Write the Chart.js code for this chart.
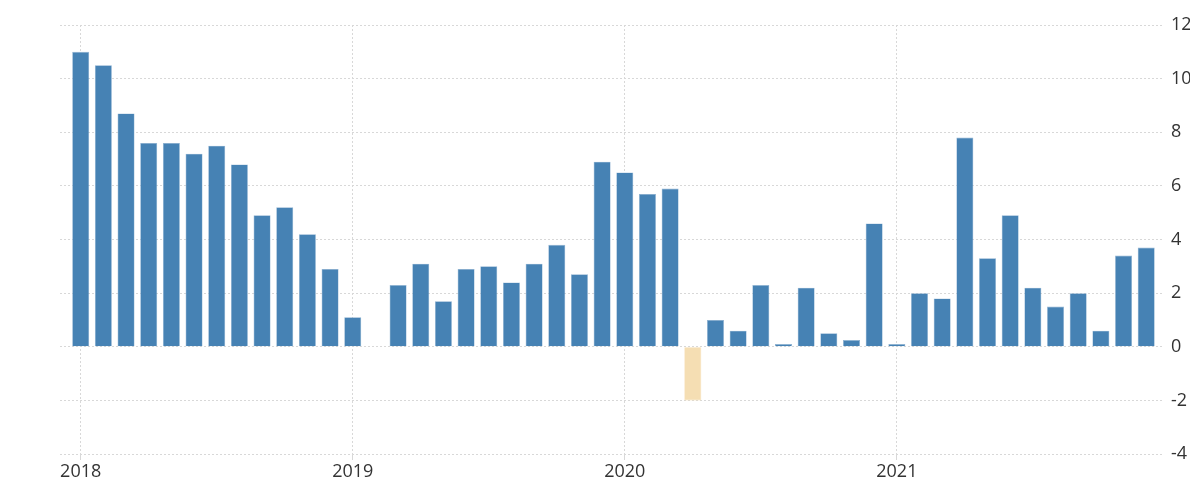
<!DOCTYPE html>
<html>
<head>
<meta charset="utf-8">
<script src="https://cdn.jsdelivr.net/npm/chart.js@4"></script>
<style>
  html, body { margin: 0; padding: 0; background: #fff; }
  #wrap { width: 1192px; height: 491px; }
</style>
</head>
<body>
<div id="wrap"><canvas id="myChart" width="1192" height="491"></canvas></div>
<script>
// monthly values, Jan 2018 - Dec 2021 (Feb 2019 has no value)
const values2018 = [11.0, 10.5, 8.7, 7.6, 7.6, 7.2, 7.5, 6.8, 4.9, 5.2, 4.2, 2.9];
const values2019 = [1.1, null, 2.3, 3.1, 1.7, 2.9, 3.0, 2.4, 3.1, 3.8, 2.7, 6.9];
const values2020 = [6.5, 5.7, 5.9, -2.0, 1.0, 0.6, 2.3, 0.1, 2.2, 0.5, 0.25, 4.6];
const values2021 = [0.1, 2.0, 1.8, 7.8, 3.3, 4.9, 2.2, 1.5, 2.0, 0.6, 3.4, 3.7];
const yearTicks = [0, 12, 24, 36];
const yearLabels = ['2018', '2019', '2020', '2021'];

const values = [].concat(values2018, values2019, values2020, values2021);
const points = values.map((v, i) => ({ x: i, y: v }));

document.addEventListener("DOMContentLoaded", function () {
    const ctx = document.getElementById('myChart');

    new Chart(ctx, {
        type: 'bar',
        data: {
            datasets: [{
                label: 'Value',
                data: points,
                backgroundColor: c => (c.raw && c.raw.y < 0) ? '#f5deb3' : '#4682b4',
                borderColor: c => (c.raw && c.raw.y < 0) ? '#f5deb3' : '#8fb2d2',
                borderWidth: 0.6,
                barPercentage: 0.75,
                categoryPercentage: 1
            }]
        },
        options: {
            responsive: false,
            animation: false,
            layout: { padding: { left: 60, right: 2, top: 25, bottom: 0 } },
            plugins: { legend: { display: false }, tooltip: { enabled: false } },
            scales: {
                x: {
                    type: 'linear',
                    offset: false,
                    min: -0.913,
                    max: 47.74,
                    afterBuildTicks: axis => { axis.ticks = yearTicks.map(v => ({ value: v })); },
                    afterFit: axis => { axis.height = 37; },
                    ticks: {
                        callback: v => yearLabels[yearTicks.indexOf(v)],
                        color: '#333',
                        font: { family: 'Open Sans', size: 18 },
                        maxRotation: 0,
                        autoSkip: false,
                        padding: 1
                    },
                    grid: {
                        offset: false,
                        color: '#d8d8d8',
                        lineWidth: 1,
                        tickLength: 6
                    },
                    border: { display: false, dash: [2, 2] }
                },
                y: {
                    position: 'right',
                    min: -4,
                    max: 12,
                    afterFit: axis => { axis.width = 27; },
                    ticks: {
                        stepSize: 2,
                        color: '#333',
                        font: { family: 'Open Sans', size: 18 },
                        padding: 8
                    },
                    grid: {
                        color: '#d8d8d8',
                        lineWidth: 1,
                        drawTicks: false
                    },
                    border: { display: false, dash: [2, 2] }
                }
            }
        }
    });
});
</script>
</body>
</html>
